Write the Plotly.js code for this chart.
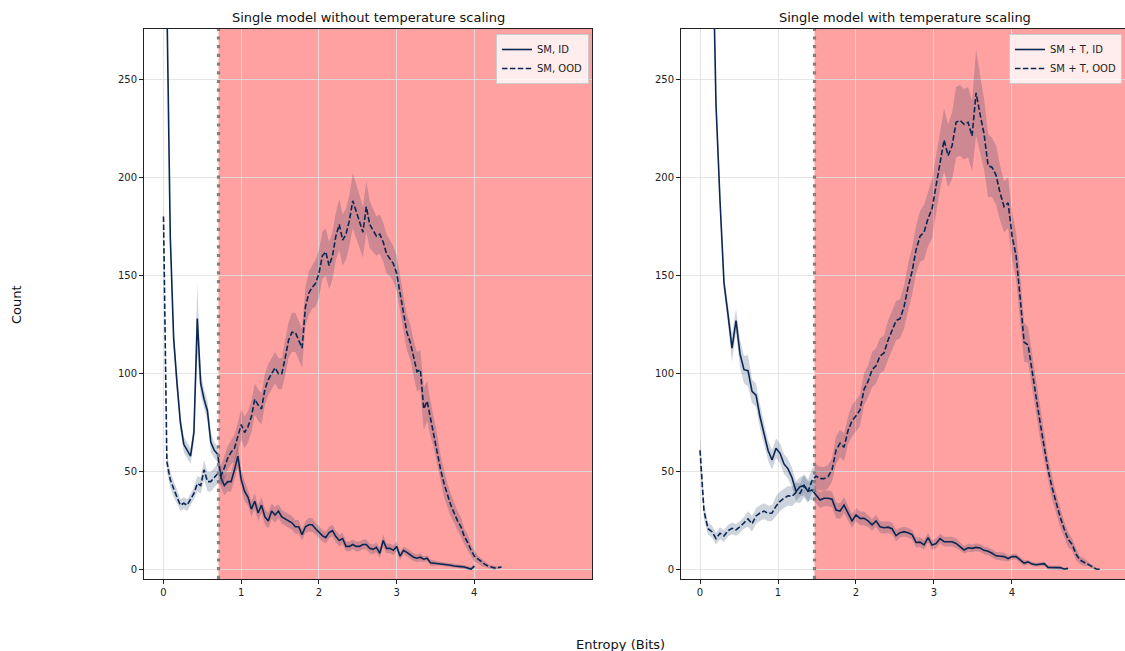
<!DOCTYPE html>
<html>
<head>
<meta charset="utf-8">
<script src="https://cdn.plot.ly/plotly-3.0.1.min.js"></script>
<style>html,body{margin:0;padding:0;background:#fff;}#chart{width:1125px;height:651px;}</style>
</head>
<body>
<div id="chart"></div>
<script>
// ---------- data ----------
const binWidthLeft = 0.0435;   // entropy bin width (bits), left panel
const binWidthRight = 0.0513;  // entropy bin width (bits), right panel
const thresholdLeft = 0.708;
const thresholdRight = 1.468;

const leftIdMean = [2000,290,170,118,95,75,64,61,58,70,
  128,95,87,81,65,61,59,47,43,45,
  45,51,58,46,40,37,31,35,29,33,
  27,25,30,28,30,27,26,25,24,22,
  22,18,22,23,23,21,19,17.5,16.5,19,
  20,17,15,16,12,12,13,12,12,13,
  13,11,10.5,11.5,8.5,15,11,11,10,12,
  7,10,9,7.6,6.5,6,6.5,5.5,6,3.7,
  3.5,3.4,3,2.9,2.7,2.4,2,1.7,1.7,1.5,
  1,0.5,2];
const leftIdStd = [0,6,5,5,5,4,4,4,4,5,
  18,6,5,5,5,4,4,5,5,5,
  5,5,6,5,5,4,4,4,4,4,
  4,4,4,4,3.5,3.5,3.5,3.5,3.5,3.5,
  3.5,3,3,3.5,3.5,3,3,3,3,3,
  3,3,3,3,2.5,2.5,2.5,2.5,2.5,2.5,
  2.5,2.5,2.5,2.5,2.5,3,2.5,2.5,2.5,2.5,
  2,2,2,2,2,2,2,1.5,1.5,1.5,
  1.5,1,1,1,1,1,1,1,1,1,
  1,1,1];
const leftOodMean = [180,55,46,41,37,33,34,33,36,39,
  44,43,51,45,45,47,49,48,52,57,
  60,62,68,74,70,73,78,87,84,82,
  92,97,100,103,100,100,108,117,121,121,
  117,113,134,141,144,146,151,160,162,155,
  160,170,176,168,171,178,188,183,178,172,
  185,176,173,170,171,167,161,158.7,156,151,
  141,130,121,116,108,101,102,82,86,77,
  70,61,51,44,38,33,29,25,22,17,
  14,10,7,5.5,4,3,2,1.5,1,1.2,1.5];
const leftOodStd = [10,5,4,4,3,3,3,3,3,3,
  4,4,5,5,5,5,5,5,6,6,
  6,7,7,8,8,8,8,8,8,8,
  8,8,8,8,8,8,9,9,10,10,
  10,10,10,11,11,12,12,12,12,12,
  12,12,13,13,13,13,14,14,13,13,
  13,12,11,10,10,10,10,9,9,9,
  9,9,9,9,9,10,10,11,10,9,
  8,8,7,7,6,6,5,5,5,4,
  4,3,3,2,2,1.5,1,1,1,0.5,0.5];

const rightIdMean = [1500,900,560,340,237,188,146,130,113,127,
  110,102,101.5,91,89,78,69.6,61,56,62,
  59.4,54,51.5,47,40,42.4,43,40,40.7,38,
  35.6,36.5,36.5,36,30.5,30,33,29,25,28,
  26.3,26.3,25,23,25,22,21.5,21.8,21,17.5,
  19,19.5,19,18,14,14.2,12.8,16.5,12.7,13.5,
  16,14.4,14.4,14.4,13.5,12,10.2,11.3,11,11.5,
  11.2,10,9.5,8.5,7.2,7,6.8,5.8,6.8,6.8,
  5,3.5,4.1,3,2.7,3.1,3.2,1.3,1.2,1.2,
  1.2,0.5,0.8];
const rightIdStd = [5,5,5,5,5,4,4,5,7,6,
  7,7,8,6,6,6,5,5,5,5,
  5,5,5,5,5,5,5,5,5,4,
  4,4,4,4,4,4,4,3.5,3.5,3.5,
  3.5,3.5,3,3,3,3,3,3,3,3,
  2.5,2.5,2.5,2.5,2.5,2.5,2.5,2.5,2.5,2.5,
  2.5,2.5,2.5,2.5,2.5,2,2,2,2,2,
  2,2,2,2,2,2,2,1.5,1.5,1.5,
  1.5,1.5,1,1,1,1,1,1,1,1,
  1,0.5,0.5];
const rightOodMean = [61,30,21,19.5,16,18.7,17.3,20,21.2,20.4,
  22,24,26,23.5,27.5,29,30,28.8,29,32.5,
  35,36.5,37.8,37.5,39.5,39,43,40,45.5,47.8,
  46.5,46.5,47.5,51,61,64.5,62.5,71,76,78.5,
  81.5,92,96,102,104,109,110.5,117,122,127,
  128,134,144,152,163,170,172,179,184,196,
  209,219,211,216,228,229,227,228,221,243,
  232,222,206,205,201,192,185,187,170,160,
  139,116,114.6,101,88,75,63,51,42,34,
  27,21,15.5,13,8,5,4,3,1.7,0.5,0.3];
const rightOodStd = [8,4,3,3,3,3,3,3,3,3,
  3,3,4,4,4,4,4,4,4,5,
  5,5,5,5,5,5,6,6,6,6,
  6,6,6,6,7,7,7,7,8,8,
  8,8,8,9,9,9,9,10,10,10,
  10,11,12,12,12,13,14,14,15,15,
  15,16,16,17,18,18,18,18,18,22,
  20,18,16,15,15,14,13,13,12,12,
  12,10,9,9,8,8,7,6,6,5,
  5,4,4,3,3,2,2,1,1,0.5,0.5];

const xTicks = [0,1,2,3,4];
const yTicks = [0,50,100,150,200,250];
const legendNames = {left:['SM, ID','SM, OOD'], right:['SM + T, ID','SM + T, OOD']};

// ---------- styling ----------
const lineColor = '#0a2753';
const bandColor = 'rgba(10,39,83,0.2)';
const font = 'DejaVu Sans, Liberation Sans, sans-serif';
const xRangeLeft = [-0.251, 5.515];
const xRangeRight = [-0.2436, 5.449];
const yRange = [-4.6, 275.5];

function binCenters(n, w){ const a=[]; for(let i=0;i<n;i++) a.push(i*w); return a; }

function series(mean, std, w, xa, ya, name, dash, legend){
  const x = binCenters(mean.length, w);
  const up = mean.map((m,i)=>m+std[i]);
  const lo = mean.map((m,i)=>Math.max(m-std[i],0));
  return [
    {x:x, y:up, xaxis:xa, yaxis:ya, mode:'lines', line:{width:0, color:bandColor}, showlegend:false, hoverinfo:'skip'},
    {x:x, y:lo, xaxis:xa, yaxis:ya, mode:'lines', line:{width:0, color:bandColor}, fill:'tonexty', fillcolor:bandColor, showlegend:false, hoverinfo:'skip'},
    {x:x, y:mean, xaxis:xa, yaxis:ya, mode:'lines', name:name, legend:legend, line:{color:lineColor, width:1.6, dash:dash}}
  ];
}

const dashed = '5.5px,2.4px';
const traces = [].concat(
  series(leftIdMean, leftIdStd, binWidthLeft, 'x', 'y', legendNames.left[0], 'solid', 'legend'),
  series(leftOodMean, leftOodStd, binWidthLeft, 'x', 'y', legendNames.left[1], dashed, 'legend'),
  series(rightIdMean, rightIdStd, binWidthRight, 'x2', 'y2', legendNames.right[0], 'solid', 'legend2'),
  series(rightOodMean, rightOodStd, binWidthRight, 'x2', 'y2', legendNames.right[1], dashed, 'legend2')
);

const gridColor = 'rgba(225,225,225,0.85)';
function xAxis(range, domain, anchor){
  return {range:range, domain:domain, anchor:anchor, tickvals:xTicks, ticktext:xTicks.map(String),
    showgrid:true, gridcolor:gridColor, gridwidth:1, zeroline:false,
    showline:true, mirror:true, linecolor:'#222', linewidth:1,
    ticks:'outside', ticklen:4, tickwidth:1, tickcolor:'#222',
    tickfont:{family:font, size:10, color:'#222'}};
}
function yAxis(domain, anchor){
  return {range:yRange, domain:domain, anchor:anchor, tickvals:yTicks, ticktext:yTicks.map(String),
    showgrid:true, gridcolor:gridColor, gridwidth:1, zeroline:false,
    showline:true, mirror:true, linecolor:'#222', linewidth:1,
    ticks:'outside', ticklen:4, tickwidth:1, tickcolor:'#222',
    tickfont:{family:font, size:10, color:'#222'}};
}
const yDom = [1-579/651, 1-29/651];
const legendBase = {bgcolor:'rgba(255,255,255,0.8)', bordercolor:'#cccccc', borderwidth:1, traceorder:'normal',
  font:{family:font, size:10, color:'#222'}, xanchor:'right', yanchor:'top', itemwidth:30, tracegroupgap:0};

const layout = {
  width:1125, height:651,
  margin:{l:0, r:0, t:0, b:0},
  paper_bgcolor:'#fff', plot_bgcolor:'#fff',
  showlegend:true,
  xaxis: xAxis(xRangeLeft, [144/1125, 592/1125], 'y'),
  yaxis: yAxis(yDom, 'x'),
  xaxis2: xAxis(xRangeRight, [681/1125, 1], 'y2'),
  yaxis2: yAxis(yDom, 'x2'),
  legend: Object.assign({x:589/1125, y:1-34/651}, legendBase),
  legend2: Object.assign({x:1122/1125, y:1-34/651}, legendBase),
  shapes: [
    {type:'rect', xref:'x', yref:'y domain', x0:thresholdLeft, x1:xRangeLeft[1], y0:0, y1:1, fillcolor:'rgba(255,0,0,0.37)', line:{width:0}, layer:'below'},
    {type:'rect', xref:'x2', yref:'y2 domain', x0:thresholdRight, x1:xRangeRight[1], y0:0, y1:1, fillcolor:'rgba(255,0,0,0.37)', line:{width:0}, layer:'below'},
    {type:'line', xref:'x', yref:'y domain', x0:thresholdLeft, x1:thresholdLeft, y0:0, y1:1, line:{color:'#808080', width:3.2, dash:'3.2px,5.5px'}, layer:'above'},
    {type:'line', xref:'x2', yref:'y2 domain', x0:thresholdRight, x1:thresholdRight, y0:0, y1:1, line:{color:'#808080', width:3.2, dash:'3.2px,5.5px'}, layer:'above'}
  ],
  annotations: [
    {text:'Single model without temperature scaling', xref:'paper', yref:'paper', x:368/1125, y:1-18/651, showarrow:false, xanchor:'center', yanchor:'middle', font:{family:font, size:13, color:'#111'}},
    {text:'Single model with temperature scaling', xref:'paper', yref:'paper', x:905/1125, y:1-18/651, showarrow:false, xanchor:'center', yanchor:'middle', font:{family:font, size:13, color:'#111'}},
    {text:'Count', xref:'paper', yref:'paper', x:17/1125, y:1-305/651, showarrow:false, textangle:-90, xanchor:'center', yanchor:'middle', font:{family:font, size:13, color:'#111'}},
    {text:'Entropy (Bits)', xref:'paper', yref:'paper', x:620/1125, y:1-644/651, showarrow:false, xanchor:'center', yanchor:'middle', font:{family:font, size:13, color:'#111'}}
  ]
};

Plotly.newPlot('chart', traces, layout, {staticPlot:true, displayModeBar:false});
</script>
</body>
</html>
